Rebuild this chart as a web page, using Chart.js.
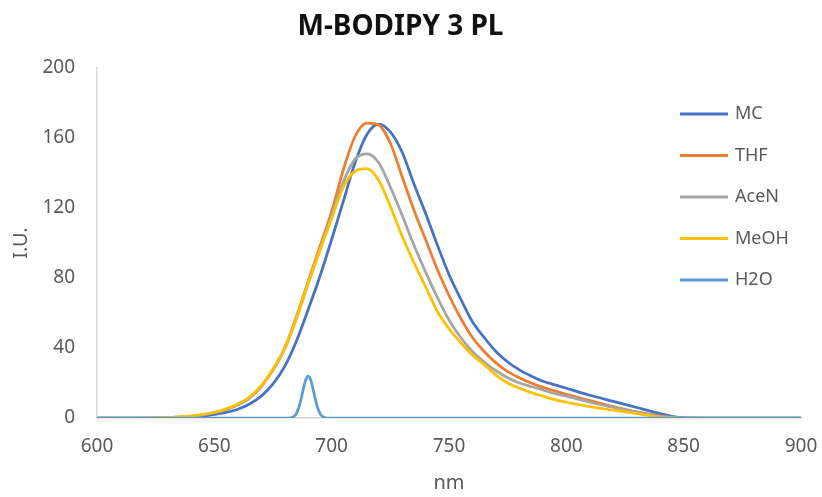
<!DOCTYPE html>
<html>
<head>
<meta charset="utf-8">
<script src="https://cdn.jsdelivr.net/npm/chart.js@4.4.1/dist/chart.umd.min.js"></script>
<style>
    html, body { margin: 0; padding: 0; background: #fff; }
    #wrap { width: 822px; height: 497px; }
</style>
</head>
<body>
<div id="wrap"><canvas id="pl-chart"></canvas></div>
<script>
    // wavelengths (nm) shared by the four solvent curves
    const wavelength = [600, 620, 630, 635, 640, 645, 650, 655, 660, 665, 670, 675, 680, 685, 690, 695,
        700, 705, 710, 715, 720, 725, 730, 735, 740, 745, 750, 755, 760, 765, 770, 775, 780, 785, 790, 795,
        800, 810, 820, 830, 840, 845, 850, 860, 880, 900];

    const mc = [0, 0, 0, 0.2, 0.5, 1, 2, 3.2, 5, 8, 12.5, 19.5, 29.5, 44, 62, 81,
        102, 124, 146, 162, 168, 163.5, 152, 134, 117, 99, 82, 68, 55, 46, 38, 32, 27.5, 24, 21, 19,
        17, 13, 9.5, 6, 2.5, 1, 0.2, 0, 0, 0];

    const thf = [0, 0, 0.2, 0.5, 1, 1.8, 3, 4.8, 7.5, 11.5, 18, 27.5, 40, 58, 78, 98,
        118, 142, 161, 168.5, 167.5, 157, 138, 119, 102, 85, 70, 57, 46, 38, 31.5, 26.5, 23, 20, 17.5, 15.5,
        13.5, 10, 6.5, 3.5, 1.2, 0.4, 0, 0, 0, 0];

    const acen = [0, 0, 0.2, 0.5, 1, 1.8, 3, 4.8, 7.5, 11.5, 18, 27.5, 39.5, 57, 77, 96,
        116, 135, 148, 151, 146, 132, 116, 99, 83.5, 69, 56, 46, 38, 32, 27, 23, 20, 18, 16, 14,
        12.5, 9, 6, 3.2, 1, 0.3, 0, 0, 0, 0];

    const meoh = [0, 0, 0.3, 0.6, 1.2, 2, 3.3, 5.2, 8, 12, 18.5, 28, 40, 57, 77, 96,
        114, 132, 141, 142.5, 136, 121, 104, 89, 75, 61, 51, 43, 36, 30.5, 24.5, 20, 17, 14.5, 12.5, 10.5,
        9, 6.5, 4.5, 2.5, 0.5, 0.1, 0, 0, 0, 0];

    // water has its own finer grid around the narrow peak
    const wavelengthH2O = [600, 682, 683, 684, 685, 686, 687, 688, 689, 690, 691, 692, 693, 694, 695, 696, 697, 698, 900];
    const h2o = [0, 0, 0.3, 1, 2.7, 6, 11, 17, 22, 24, 22, 17, 11, 6, 2.7, 1, 0.3, 0, 0];

    const seriesNames = ['MC', 'THF', 'AceN', 'MeOH', 'H2O'];
    const seriesColors = ['#4472C4', '#ED7D31', '#A5A5A5', '#FFC000', '#5B9BD5'];

    const toPoints = (xs, ys) => xs.map((x, i) => ({x: x, y: ys[i]}));

    const seriesData = [
        toPoints(wavelength, mc),
        toPoints(wavelength, thf),
        toPoints(wavelength, acen),
        toPoints(wavelength, meoh),
        toPoints(wavelengthH2O, h2o)
    ];

    const textGray = '#595959';
    Chart.defaults.font.family = "'Noto Sans', sans-serif";

    // legend sits inside the plot, top right, like the excel original
    const insideLegend = {
        id: 'insideLegend',
        afterDraw(chart) {
            const ctx = chart.ctx;
            ctx.save();
            ctx.font = "18px 'Noto Sans', sans-serif";
            ctx.textBaseline = 'middle';
            chart.data.datasets.forEach((ds, i) => {
                let y = 114 + i * 41.5;
                ctx.strokeStyle = ds.borderColor;
                ctx.lineWidth = 3;
                ctx.beginPath();
                ctx.moveTo(680, y);
                ctx.lineTo(728, y);
                ctx.stroke();
                ctx.fillStyle = textGray;
                ctx.fillText(ds.label, 735, y);
            });
            ctx.restore();
        }
    };

    let datasets = seriesNames.map((name, i) => ({
        label: name,
        data: seriesData[i],
        borderColor: seriesColors[i],
        backgroundColor: seriesColors[i],
        borderWidth: 2.75,
        pointRadius: 0,
        cubicInterpolationMode: 'monotone',
        fill: false,
        order: seriesNames.length - 1 - i
    }));

    let ctx = document.getElementById('pl-chart').getContext('2d');
    let chart = new Chart(ctx, {
        type: 'line',
        data: {datasets: datasets},
        options: {
            responsive: true,
            maintainAspectRatio: false,
            animation: false,
            layout: {
                padding: {left: 0, right: 21, top: 0, bottom: 0}
            },
            plugins: {
                legend: {display: false},
                tooltip: {enabled: false},
                title: {
                    display: true,
                    text: 'M-BODIPY 3 PL',
                    color: '#111',
                    font: {size: 28, weight: 'bold'},
                    padding: {top: 10, bottom: 24.4}
                }
            },
            scales: {
                x: {
                    type: 'linear',
                    min: 600,
                    max: 900,
                    ticks: {stepSize: 50, color: textGray, font: {size: 19}, padding: 17},
                    grid: {display: false, drawTicks: false},
                    border: {display: true, color: '#d0d0d0', width: 1.5},
                    title: {display: true, text: 'nm', color: textGray, font: {size: 20}, padding: {top: 0, bottom: 2}},
                    afterFit: (scale) => {
                        scale.height = 79;
                        scale.paddingLeft = 0;
                        scale.paddingRight = 0;
                    }
                },
                y: {
                    min: 0,
                    max: 200,
                    ticks: {stepSize: 40, color: textGray, font: {size: 19}, padding: 22},
                    grid: {display: false, drawTicks: false},
                    border: {display: true, color: '#d9d9d9', width: 1.5},
                    title: {display: true, text: 'I.U.', color: textGray, font: {size: 20}, padding: {top: 9, bottom: 0}},
                    afterFit: (scale) => { scale.width = 97; }
                }
            }
        },
        plugins: [insideLegend]
    });
</script>
</body>
</html>
